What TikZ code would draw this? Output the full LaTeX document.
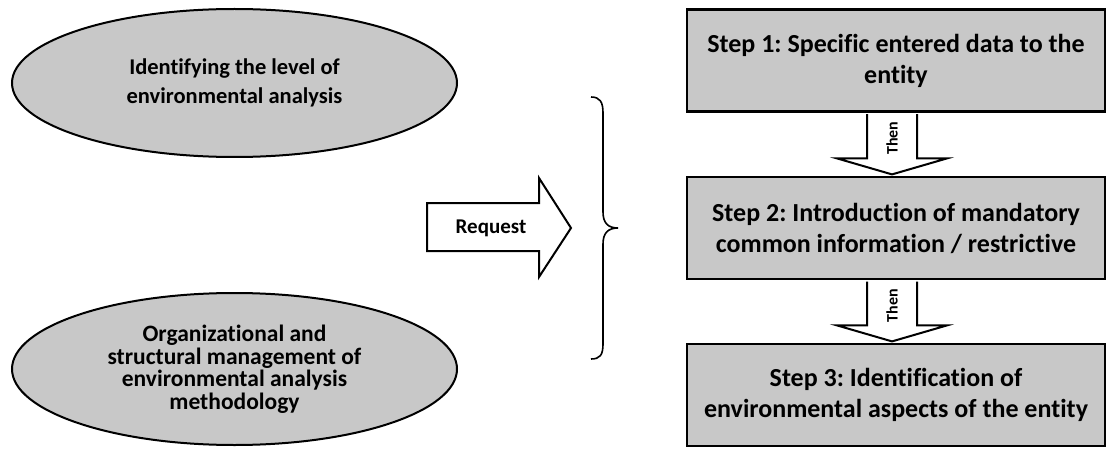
\documentclass[tikz,border=0pt]{standalone}
\usepackage{fontspec}
\setmainfont{Carlito}[Ligatures=NoCommon]
\usetikzlibrary{shapes.geometric,calc}
\definecolor{boxgray}{RGB}{200,200,200}
\frenchspacing
\tikzset{
  ovalnode/.style={ellipse, draw=black, line width=2pt, fill=boxgray, minimum width=445pt, minimum height=148pt, inner sep=0pt, align=center, font=\bfseries},
  stepbox/.style={rectangle, draw=black, line width=2.6pt, fill=boxgray, minimum width=418pt, minimum height=102pt, inner sep=0pt, align=center, font=\fontsize{26}{31}\selectfont\bfseries},
  bigarrow/.style={draw=black, line width=2pt, fill=white, line join=miter},
  thenlabel/.style={rotate=90, inner sep=0pt, font=\fontsize{16}{18}\selectfont\bfseries},
  bracestyle/.style={draw=black, line width=1.6pt}
}
\begin{document}
\begin{tikzpicture}[x=1pt,y=-1pt]
\useasboundingbox (0,0) rectangle (1107,449);
% left ellipses
\node[ovalnode, font=\fontsize{22.5}{29.5}\selectfont\bfseries] (e1) at (234.5,83) {Identifying the level of\\environmental analysis};
\node[ovalnode, font=\fontsize{23.5}{22.5}\selectfont\bfseries, minimum height=152pt] (e2) at (234.5,369) {Organizational and\\structural management of\\environmental analysis\\methodology};
% request arrow
\draw[bigarrow] (427,203) -- (539,203) -- (539,178) -- (571,228) -- (539,277) -- (539,251) -- (427,251) -- cycle;
\node[inner sep=0pt, font=\fontsize{21}{24}\selectfont\bfseries] (req) at (491,228) {Request};
% brace
\draw[bracestyle] (591,97) .. controls (600,97) and (603,102) .. (603,113) -- (603,212) .. controls (603,223) and (608,228) .. (618,228) .. controls (608,228) and (603,233) .. (603,244) -- (603,344) .. controls (603,355) and (600,359) .. (591,359);
% step boxes
\node[stepbox] (b1) at (896,60.5) {Step 1: Specific entered data to the\\entity};
\node[stepbox] (b2) at (896,228) {Step 2: Introduction of mandatory\\common information / restrictive};
\node[stepbox] (b3) at (896,395) {Step 3: Identification of\\environmental aspects of the entity};
% then arrows
\coordinate (t1s) at ($(b1.south)+(-4,1.3)$);
\coordinate (t1e) at ($(b2.north)+(-4,-1.3)$);
\coordinate (t2s) at ($(b2.south)+(-4,1.3)$);
\coordinate (t2e) at ($(b3.north)+(-4,-1.3)$);
\draw[bigarrow] ($(t1s)+(-25,0)$) -- ($(t1e)+(-25,-16)$) -- ($(t1e)+(-55,-16)$) -- (t1e) -- ($(t1e)+(55,-16)$) -- ($(t1e)+(25,-16)$) -- ($(t1s)+(25,0)$);
\draw[bigarrow] ($(t2s)+(-25,0)$) -- ($(t2e)+(-25,-16)$) -- ($(t2e)+(-55,-16)$) -- (t2e) -- ($(t2e)+(55,-16)$) -- ($(t2e)+(25,-16)$) -- ($(t2s)+(25,0)$);
\node[thenlabel] (then1) at ($(t1s)!0.4!(t1e)$) {Then};
\node[thenlabel] (then2) at ($(t2s)!0.4!(t2e)$) {Then};
\end{tikzpicture}
\end{document}
